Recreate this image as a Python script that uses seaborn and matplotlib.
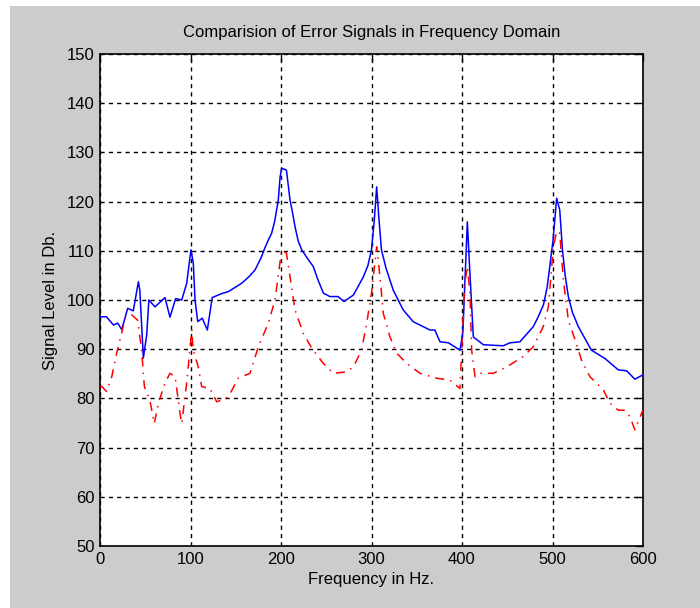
import matplotlib
matplotlib.use("Agg")
import matplotlib.pyplot as plt
import seaborn as sns
import pandas as pd
from matplotlib.patches import Rectangle

# ---- data ----
blue_freq = [0, 2, 7, 15, 19.5, 24, 30.6, 36.8, 42.4, 44,
             47.9, 51.6, 54, 60.8, 71.8, 77.3, 83.6, 90.3, 95.8, 100.5,
             103.1, 105, 108, 113, 118.6, 124, 134.4, 141.8, 156.5, 165,
             171.3, 178, 182, 186, 189.7, 193, 197, 199, 200.7, 206,
             210, 213, 215.5, 219, 222.9, 229, 235.7, 240,
             246.8, 254, 263, 269.6, 280, 291, 296, 300, 303, 305.7, 308, 311, 316, 324,
             335, 346, 364.6, 370, 375.7, 385, 397.8, 401, 405.9, 408,
             412.5, 423.6, 445.6, 453, 464, 478.8, 484, 490, 494, 497, 500.5, 504.6, 508,
             511, 514, 517.5, 522, 528.5, 543, 558, 572.7, 582, 591, 600]
blue_db = [96.5, 96.6, 96.6, 94.9, 95.3, 94.0, 98.3, 97.8, 103.7, 102,
           88.2, 92.9, 100, 98.6, 100.5, 96.5, 100.3, 100, 103.4, 110.2,
           107.5, 100, 95.6, 96.3, 93.9, 100.5, 101.3, 101.7, 103.4, 104.8,
           106.1, 108.6, 110.5, 112.2, 113.6, 116, 120.3, 125, 126.8, 126.4,
           120.3, 117.5, 114.9, 112, 110.2, 108.5, 106.8, 104.5,
           101.4, 100.7, 100.7, 99.7, 101, 104.7, 107, 110.2, 116, 123, 117, 110.2, 106.5, 102,
           98, 95.6, 93.9, 93.9, 91.5, 91.3, 89.8, 93.6, 115.9, 108.1,
           92.5, 90.9, 90.7, 91.3, 91.5, 94.6, 96.5, 99, 102.5, 106.8, 112, 120.7, 118.3,
           110.2, 105, 100.7, 97.5, 94.6, 89.8, 88.1, 85.8, 85.6, 83.9, 84.8]

red_freq = [0, 2, 7.4, 13, 18.4, 23, 27.6, 35, 41.6, 46,
            49, 55, 60, 64.5, 71.8, 77.3, 83, 88.4, 90.3, 95.8,
            101.3, 103, 108.6, 112.4, 121.5, 129, 141.8, 152.8, 165.7, 175,
            186, 193.4, 200.7, 206, 210, 215.5, 224.7, 234, 246.8, 257.8,
            272.6, 280, 289, 294.7, 300, 305.7, 309.4, 313, 320.4, 327.8,
            339, 353.6, 372, 386.7, 397.8, 399.6, 403, 406, 408.8, 410.7,
            414.4, 420, 434.6, 449.4, 467.7, 478.8, 489.8, 495.4, 501, 504.6,
            508, 512, 517.5, 525, 532, 541.4, 556, 563.5, 572.7, 580,
            585.6, 591, 598.5, 600]
red_db = [82.5, 82.4, 81.4, 84.4, 89.2, 92.5, 96.3, 97, 95.9, 89.8,
          82.4, 79.7, 74.9, 79, 83.1, 85.1, 84.4, 77, 74.9, 83.1,
          93.9, 89.8, 86.4, 82.4, 82, 79.3, 80.3, 84.1, 85.1, 90.5,
          95.3, 100, 110.2, 109.5, 104.7, 98, 93.2, 90.2, 87.1, 85.1,
          85.4, 86.4, 89.8, 95.3, 101.4, 110.8, 104.7, 97.3, 92.5, 89.2,
          87.1, 85.1, 84.1, 83.7, 82, 89.8, 103.4, 106.8, 101.4, 89.8,
          84.4, 85.1, 85.1, 86.4, 88.5, 90.5, 94.6, 98.6, 110.8, 114,
          113.6, 104.1, 95.9, 91.9, 87.8, 84.4, 81.8, 79, 77.6, 77.6,
          76.3, 73.6, 77, 77.6]

x_ticks = [0, 100, 200, 300, 400, 500, 600]
y_ticks = [50, 60, 70, 80, 90, 100, 110, 120, 130, 140, 150]

title = "Comparision of Error Signals in Frequency Domain"
xlabel = "Frequency in Hz."
ylabel = "Signal Level in Db."

# ---- style ----
sns.set_style("white")
plt.rcParams['font.family'] = ['Liberation Sans Narrow', 'Liberation Sans', 'DejaVu Sans']
plt.rcParams['font.size'] = 12
plt.rcParams['text.color'] = 'black'
plt.rcParams['axes.labelcolor'] = 'black'

gray = "#cccccc"
fig = plt.figure(figsize=(7.0, 6.08), dpi=100, facecolor="white")
fig.patches.append(Rectangle((10 / 700, 0), 1 - 10 / 700, 1 - 6 / 608,
                             transform=fig.transFigure, facecolor=gray,
                             edgecolor="none", zorder=-10))
ax = fig.add_axes([100 / 700, 62 / 608, 543 / 700, 492 / 608])
ax.set_facecolor("white")

df_blue = pd.DataFrame({"f": blue_freq, "db": blue_db})
df_red = pd.DataFrame({"f": red_freq, "db": red_db})
sns.lineplot(data=df_blue, x="f", y="db", ax=ax, color="#0000ff",
             linewidth=1.1, estimator=None, sort=False, zorder=3)
sns.lineplot(data=df_red, x="f", y="db", ax=ax, color="#ff0000",
             linewidth=1.1, linestyle=(0, (6, 4, 1, 4)), estimator=None,
             sort=False, zorder=3)

ax.set_xlim(0, 600)
ax.set_ylim(50, 150)
ax.set_xticks(x_ticks)
ax.set_yticks(y_ticks)
ax.grid(True, color="black", linestyle=(0, (3, 3)), linewidth=1.0, zorder=1)
ax.set_axisbelow(True)
for s in ax.spines.values():
    s.set_color("black")
    s.set_linewidth(1.2)
ax.tick_params(direction="in", length=5, width=1, top=True, right=True,
               labelsize=12, colors="black", pad=4)

ax.set_title(title, fontsize=12, pad=12, color="black")
ax.set_xlabel(xlabel, fontsize=12, labelpad=4, color="black")
ax.set_ylabel(ylabel, fontsize=12, labelpad=6, color="black")

fig.savefig("out.png", dpi=100, facecolor=fig.get_facecolor())
